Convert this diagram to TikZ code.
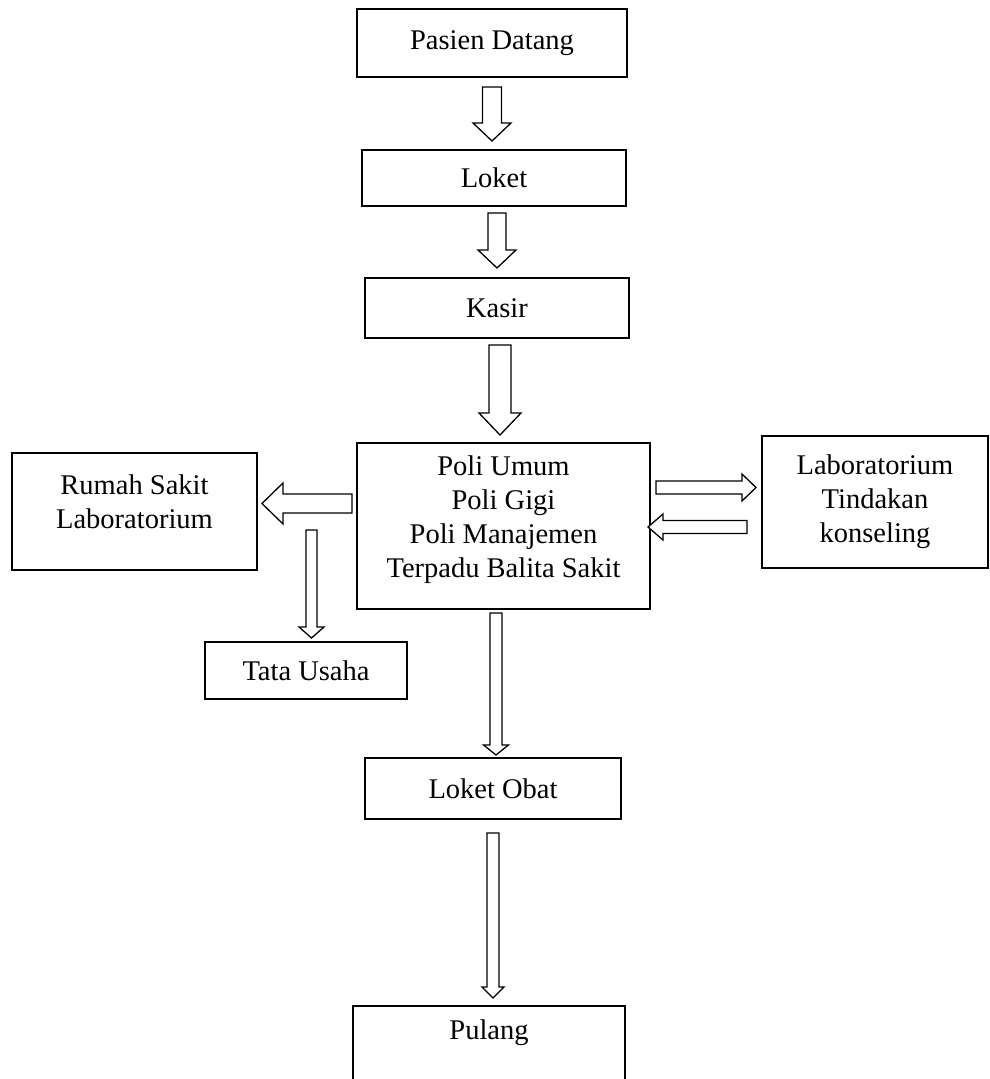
\documentclass[tikz,border=0pt]{standalone}
\usepackage{fontspec}
\setmainfont{Liberation Serif}
\newcommand{\darr}[6]{% xc, ytop, ytip, shaft half, head half, head length
  \draw[barrow] (#1-#4,#2) -- (#1+#4,#2) -- (#1+#4,#3-#6) -- (#1+#5,#3-#6) -- (#1,#3)
    -- (#1-#5,#3-#6) -- (#1-#4,#3-#6) -- cycle;}
\newcommand{\larr}[6]{% yc, xtail, xtip, shaft half, head half, head length (points left)
  \draw[barrow] (#2,#1-#4) -- (#2,#1+#4) -- (#3+#6,#1+#4) -- (#3+#6,#1+#5) -- (#3,#1)
    -- (#3+#6,#1-#5) -- (#3+#6,#1-#4) -- cycle;}
\newcommand{\rarr}[6]{% yc, xtail, xtip, shaft half, head half, head length (points right)
  \draw[barrow] (#2,#1-#4) -- (#2,#1+#4) -- (#3-#6,#1+#4) -- (#3-#6,#1+#5) -- (#3,#1)
    -- (#3-#6,#1-#5) -- (#3-#6,#1-#4) -- cycle;}
\begin{document}
\begin{tikzpicture}[x=1pt,y=-1pt,
  box/.style={draw, line width=1.6pt, inner sep=0pt, align=center},
  txt/.style={inner sep=0pt, align=center},
  barrow/.style={draw, line width=1.3pt, line join=miter, fill=white},
  font=\fontsize{28.5pt}{34pt}\selectfont]
\useasboundingbox (0,0) rectangle (990,1079);
% boxes
\node[box, minimum width=270pt, minimum height=68pt] (pasien) at (492,43) {Pasien Datang};
\node[box, minimum width=264pt, minimum height=56pt] (loket) at (494,178) {Loket};
\node[box, minimum width=264pt, minimum height=60pt] (kasir) at (497,308) {Kasir};
\node[box, minimum width=293pt, minimum height=166pt] (poli) at (503.5,526) {};
\node[txt] (politxt) at (503.5,520) {Poli Umum\\Poli Gigi\\Poli Manajemen\\Terpadu Balita Sakit};
\node[box, minimum width=245pt, minimum height=117pt] (rumah) at (134.5,511.5) {};
\node[txt] (rumahtxt) at (134.5,502) {Rumah Sakit\\Laboratorium};
\node[box, minimum width=202pt, minimum height=57pt] (tata) at (306,670.5) {Tata Usaha};
\node[box, minimum width=226pt, minimum height=132pt] (lab) at (875,502) {Laboratorium\\Tindakan\\konseling};
\node[box, minimum width=256pt, minimum height=61pt] (obat) at (493,788.5) {Loket Obat};
\node[box, minimum width=272pt, minimum height=90pt] (pulang) at (489,1051) {};
\node[txt] (pulangtxt) at (489,1033) {Pulang};
% block arrows
\darr{492}{87}{141}{9.5}{19}{18}
\darr{497}{213}{268}{9}{19}{18}
\darr{500}{345}{435}{11}{21}{22}
\darr{311.5}{530}{638}{5.5}{12.5}{11}
\darr{496}{613}{755}{6}{12.5}{10}
\darr{493}{833}{998}{6}{11}{11}
\larr{503.5}{352}{262}{9.5}{20.5}{21}
\rarr{487.5}{656}{756}{6.5}{13.5}{14}
\larr{527}{747}{648}{6.5}{13}{15}
\end{tikzpicture}
\end{document}
